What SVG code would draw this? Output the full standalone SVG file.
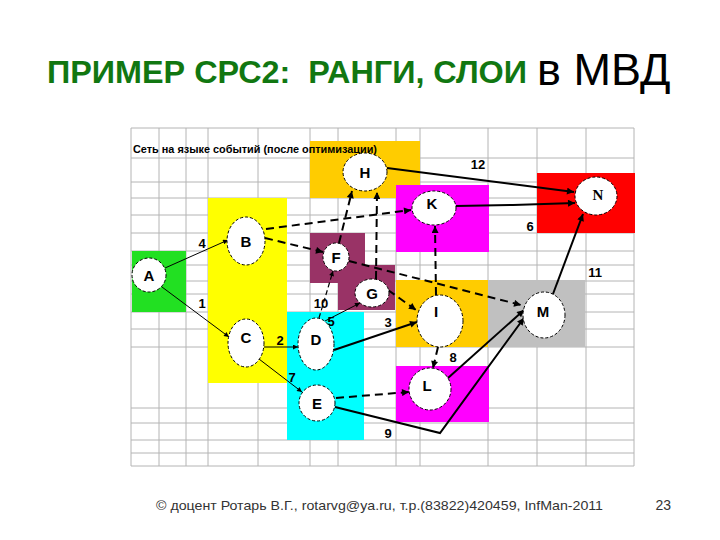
<svg xmlns="http://www.w3.org/2000/svg" width="720" height="540" viewBox="0 0 720 540">
<defs>
<style>
.grid line{stroke:#b4b4b4;stroke-width:1}
.node ellipse{fill:#fff;stroke:#000;stroke-width:1;stroke-dasharray:3 2}
.node text{font-family:"Liberation Sans",Arial,sans-serif;font-weight:bold;font-size:15px;text-anchor:middle;fill:#000}
.lbl{font-family:"Liberation Sans",Arial,sans-serif;font-weight:bold;font-size:13px;text-anchor:middle;fill:#000}
.thin{stroke:#000;stroke-width:1;fill:none}
.thick{stroke:#000;stroke-width:2;fill:none}
.dash{stroke:#000;stroke-width:2;fill:none;stroke-dasharray:8 5}
.tdash{stroke:#000;stroke-width:1.2;fill:none;stroke-dasharray:5 3}
</style>
<marker id="ah" viewBox="0 0 10 10" refX="10" refY="5" markerWidth="8" markerHeight="7" markerUnits="userSpaceOnUse" orient="auto"><path d="M0,0 L10,5 L0,10 z" fill="#000"/></marker>
<marker id="as" viewBox="0 0 10 10" refX="10" refY="5" markerWidth="6" markerHeight="5" markerUnits="userSpaceOnUse" orient="auto"><path d="M0,0 L10,5 L0,10 z" fill="#000"/></marker>
</defs>
<rect width="720" height="540" fill="#fff"/>
<g id="title">
<text x="47" y="83" font-family="Liberation Sans,Arial,sans-serif" font-weight="bold" font-size="32" fill="#117711" xml:space="preserve" textLength="480" lengthAdjust="spacingAndGlyphs">ПРИМЕР СРС2:  РАНГИ, СЛОИ</text>
<text x="537" y="85" font-family="Liberation Sans,Arial,sans-serif" font-size="45" fill="#000">в МВД</text>
</g>
<g class="grid" id="grid">
<line x1="131" y1="128" x2="131" y2="466"/><line x1="159" y1="128" x2="159" y2="466"/><line x1="186" y1="128" x2="186" y2="466"/><line x1="208" y1="128" x2="208" y2="466"/><line x1="258" y1="128" x2="258" y2="466"/><line x1="310" y1="128" x2="310" y2="466"/><line x1="338" y1="128" x2="338" y2="466"/><line x1="396" y1="128" x2="396" y2="466"/><line x1="420" y1="128" x2="420" y2="466"/><line x1="488" y1="128" x2="488" y2="466"/><line x1="537" y1="128" x2="537" y2="466"/><line x1="586" y1="128" x2="586" y2="466"/><line x1="634" y1="128" x2="634" y2="466"/>
<line x1="131" y1="128" x2="634" y2="128"/><line x1="131" y1="158" x2="634" y2="158"/><line x1="131" y1="182" x2="634" y2="182"/><line x1="131" y1="198" x2="634" y2="198"/><line x1="131" y1="215" x2="634" y2="215"/><line x1="131" y1="233" x2="634" y2="233"/><line x1="131" y1="251" x2="634" y2="251"/><line x1="131" y1="265" x2="634" y2="265"/><line x1="131" y1="281" x2="634" y2="281"/><line x1="131" y1="294" x2="634" y2="294"/><line x1="131" y1="312" x2="634" y2="312"/><line x1="131" y1="329" x2="634" y2="329"/><line x1="131" y1="347" x2="634" y2="347"/><line x1="131" y1="408" x2="634" y2="408"/><line x1="131" y1="423" x2="634" y2="423"/><line x1="131" y1="440" x2="634" y2="440"/><line x1="131" y1="453" x2="634" y2="453"/><line x1="131" y1="466" x2="634" y2="466"/>
</g>
<g id="background">
<rect x="310" y="141" width="110" height="57" fill="#ffcc00"/>
<rect x="396" y="185" width="93" height="67" fill="#ff00ff"/>
<rect x="537" y="173" width="98" height="60" fill="#ff0000"/>
<rect x="208" y="198" width="79" height="185" fill="#ffff00"/>
<rect x="132" y="251" width="54" height="61" fill="#22e022"/>
<polygon points="310,233 365,233 365,265 395,265 395,310 338,310 338,283 310,283" fill="#993366"/>
<rect x="287" y="312" width="77" height="128" fill="#00ffff"/>
<rect x="396" y="280" width="93" height="67" fill="#ffcc00"/>
<rect x="488" y="280" width="97" height="67" fill="#c0c0c0"/>
<rect x="396" y="366" width="93" height="56" fill="#ff00ff"/>
</g>
<text x="133" y="153" font-family="Liberation Sans,Arial,sans-serif" font-weight="bold" font-size="11" textLength="244" lengthAdjust="spacingAndGlyphs">Сеть на языке событий (после оптимизации)</text>
<g id="connectors">
<line class="thin" x1="165" y1="268" x2="228" y2="240" marker-end="url(#as)"/>
<line class="thin" x1="162" y1="287" x2="229" y2="337" marker-end="url(#as)"/>
<line class="thin" x1="264" y1="347" x2="298" y2="347" marker-end="url(#as)"/>
<line class="thin" x1="259" y1="359" x2="302" y2="392" marker-end="url(#as)"/>
<line class="tdash" x1="319" y1="318" x2="333" y2="271" marker-end="url(#as)"/>
<line class="thin" x1="325" y1="321" x2="360" y2="303" marker-end="url(#as)"/>
<line class="thick" x1="334" y1="350" x2="417" y2="322" marker-end="url(#ah)"/>
<line class="dash" x1="336" y1="398" x2="409" y2="392" marker-end="url(#ah)"/>
<polyline class="thick" points="335,407 440,433 524,318" marker-end="url(#ah)"/>
<line class="thick" x1="448" y1="378" x2="524" y2="310" marker-end="url(#ah)"/>
<line class="thick" x1="387" y1="168" x2="574" y2="192" marker-end="url(#ah)"/>
<polyline class="thick" points="456,206 513,205 575,203" marker-end="url(#ah)"/>
<line class="thick" x1="553" y1="294" x2="583" y2="214" marker-end="url(#ah)"/>
<line class="dash" x1="266" y1="229" x2="411" y2="210" marker-end="url(#ah)"/>
<line class="dash" x1="265" y1="238" x2="323" y2="252" marker-end="url(#ah)"/>
<line class="dash" x1="339" y1="243" x2="352" y2="191" marker-end="url(#ah)"/>
<line class="dash" x1="376" y1="279" x2="377" y2="192" marker-end="url(#ah)"/>
<line class="dash" x1="436" y1="295" x2="435" y2="226" marker-end="url(#ah)"/>
<line class="dash" x1="349" y1="261" x2="521" y2="305" marker-end="url(#ah)"/>
<line class="dash" x1="388" y1="290" x2="416" y2="310" marker-end="url(#ah)"/>
<line class="dash" x1="438" y1="347" x2="433" y2="368" marker-end="url(#ah)"/>
</g>
<g id="edge-labels">
<text class="lbl" x="478" y="169">12</text>
<text class="lbl" x="530" y="231">6</text>
<text class="lbl" x="202" y="248">4</text>
<text class="lbl" x="595" y="277">11</text>
<text class="lbl" x="202" y="308">1</text>
<text class="lbl" x="321" y="308">10</text>
<text class="lbl" x="331" y="326">5</text>
<text class="lbl" x="388" y="327">3</text>
<text class="lbl" x="280" y="345">2</text>
<text class="lbl" x="453" y="362">8</text>
<text class="lbl" x="292" y="382">7</text>
<text class="lbl" x="388" y="438">9</text>
</g>
<g id="node-A" class="node"><ellipse cx="149" cy="275" rx="17" ry="17"/><text x="149" y="281">A</text></g>
<g id="node-B" class="node"><ellipse cx="246" cy="241" rx="19" ry="24"/><text x="246" y="247">B</text></g>
<g id="node-C" class="node"><ellipse cx="246" cy="343" rx="18" ry="24"/><text x="246" y="343">C</text></g>
<g id="node-D" class="node"><ellipse cx="316" cy="344" rx="18" ry="26"/><text x="316" y="345">D</text></g>
<g id="node-E" class="node"><ellipse cx="317" cy="403" rx="18" ry="18"/><text x="317" y="409">E</text></g>
<g id="node-F" class="node"><ellipse cx="336" cy="257" rx="13" ry="14"/><text x="336" y="263">F</text></g>
<g id="node-G" class="node"><ellipse cx="372" cy="293" rx="17" ry="14"/><text x="372" y="299">G</text></g>
<g id="node-H" class="node"><ellipse cx="365" cy="172" rx="22" ry="19"/><text x="365" y="178">H</text></g>
<g id="node-I" class="node"><ellipse cx="440" cy="321" rx="23" ry="26"/><text x="436" y="317">I</text></g>
<g id="node-K" class="node"><ellipse cx="434" cy="208" rx="22" ry="17"/><text x="432" y="209">K</text></g>
<g id="node-L" class="node"><ellipse cx="430" cy="389" rx="21" ry="21"/><text x="427" y="391">L</text></g>
<g id="node-M" class="node"><ellipse cx="544" cy="315" rx="21" ry="23"/><text x="543" y="317">M</text></g>
<g id="node-N" class="node"><ellipse cx="596" cy="196" rx="21" ry="19"/><text x="598" y="200" style="font-family:'Liberation Serif','Times New Roman',serif">N</text></g>
<g id="footer">
<text x="156" y="510" font-family="Liberation Sans,Arial,sans-serif" font-size="13.5" fill="#333" textLength="447" lengthAdjust="spacingAndGlyphs">© доцент Ротарь В.Г., rotarvg@ya.ru, т.р.(83822)420459, InfMan-2011</text>
<text x="671" y="510" font-family="Liberation Sans,Arial,sans-serif" font-size="14" fill="#333" text-anchor="end">23</text>
</g>
</svg>
